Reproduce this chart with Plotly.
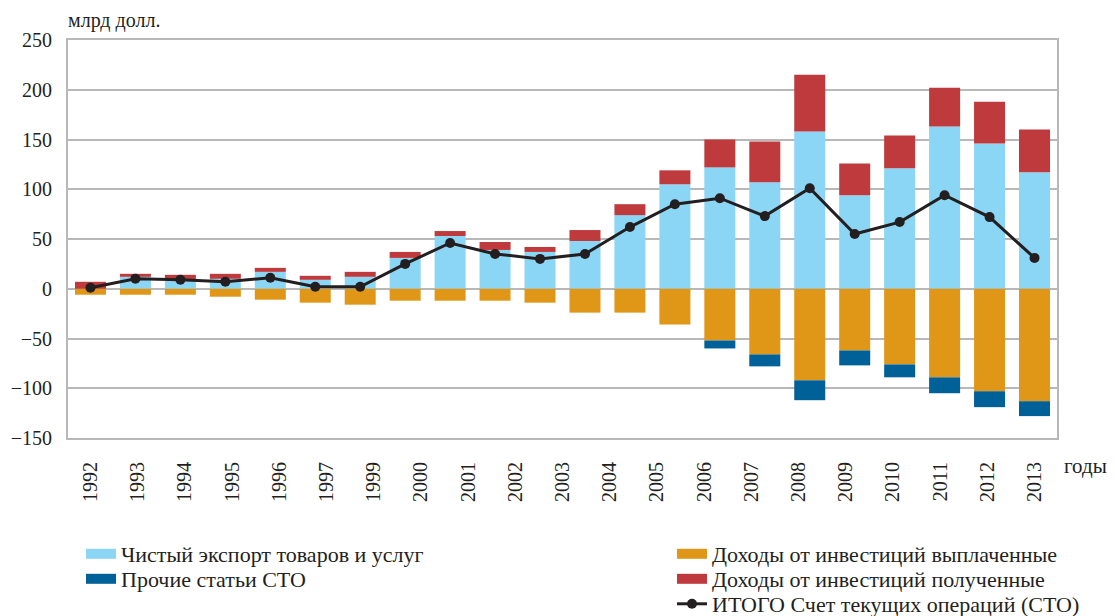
import numpy as np
import plotly.graph_objects as go

# values, bn USD; 22 bars, but the source axis shows 21 labels (no 1998)
years = list(range(1992, 2014))
tick_labels = ['1992', '1993', '1994', '1995', '1996', '1997', '1999', '2000', '2001', '2002',
               '2003', '2004', '2005', '2006', '2007', '2008', '2009', '2010', '2011', '2012', '2013']

net_export = [0, 12, 9, 10, 17, 9, 12, 31, 53, 39, 37, 48, 74, 105, 122, 107, 158, 94, 121, 163, 146, 117]
inv_received = [7, 3, 5, 5, 4, 4, 5, 6, 5, 8, 5, 11, 11, 14, 28, 41, 57, 32, 33, 39, 42, 43]
inv_paid = [-6, -6, -6, -8, -11, -14, -16, -12, -12, -12, -14, -24, -24, -36, -52, -66, -92, -62, -76, -89, -103, -113]
other_items = [0, 0, 0, 0, 0, 0, 0, 0, 0, 0, 0, 0, 0, 0, -8, -12, -20, -15, -13, -16, -16, -15]
current_account = [1, 10, 9, 7, 11, 2, 2, 25, 46, 35, 30, 35, 62, 85, 91, 73, 101, 55, 67, 94, 72, 31]

C_EXPORT = '#8bd5f5'
C_PAID = '#e09717'
C_OTHER = '#006198'
C_RECEIVED = '#bf3a3c'
C_LINE = '#231f20'
GRID = '#b8b8b8'
SERIF = 'Liberation Serif'

names = {
    'export': 'Чистый экспорт товаров и услуг',
    'other': 'Прочие статьи СТО',
    'paid': 'Доходы от инвестиций выплаченные',
    'received': 'Доходы от инвестиций полученные',
    'total': 'ИТОГО Счет текущих операций (СТО)',
}

fig = go.Figure()

# stacked bars (order matters for relative stacking)
fig.add_trace(go.Bar(x=years, y=net_export, marker_color=C_EXPORT, marker_line_width=0, showlegend=False))
fig.add_trace(go.Bar(x=years, y=inv_paid, marker_color=C_PAID, marker_line_width=0, showlegend=False))
fig.add_trace(go.Bar(x=years, y=other_items, marker_color=C_OTHER, marker_line_width=0, showlegend=False))
fig.add_trace(go.Bar(x=years, y=inv_received, marker_color=C_RECEIVED, marker_line_width=0, showlegend=False))

fig.add_trace(go.Scatter(x=years, y=current_account, mode='lines+markers', name=names['total'],
                         line=dict(color=C_LINE, width=3), marker=dict(color=C_LINE, size=10),
                         legend='legend5'))

# legend-only entries to get wide rectangular swatches
for key, col, lg in [('export', C_EXPORT, 'legend'), ('other', C_OTHER, 'legend2'),
                     ('paid', C_PAID, 'legend3'), ('received', C_RECEIVED, 'legend4')]:
    fig.add_trace(go.Scatter(x=[None], y=[None], mode='lines', name=names[key],
                             line=dict(color=col, width=11), legend=lg))

# the page body adds an 8px offset, so the figure is 8px smaller and shifted
OFF = 8
W, H = 1115 - OFF, 616 - OFF
# plot area in page pixels: x 68..1057, y 40..438
PL, PR, PT, PB = 68, 1057, 40, 438
PW, PH = PR - PL, PB - PT

legend_font = dict(family=SERIF, size=22, color=C_LINE)
def leg(px, py):
    return dict(x=(px - PL) / PW, y=(PB - py) / PH, xanchor='left', yanchor='middle',
                font=legend_font, bgcolor='rgba(0,0,0,0)', borderwidth=0)

fig.update_layout(
    barmode='relative',
    bargap=0.31,
    width=W, height=H,
    margin=dict(l=PL - OFF, r=W - (PR - OFF), t=PT - OFF, b=H - (PB - OFF), autoexpand=False),
    plot_bgcolor='white', paper_bgcolor='white',
    font=dict(family=SERIF, size=20, color=C_LINE),
    legend=leg(81, 554),
    legend2=leg(81, 579),
    legend3=leg(672, 554),
    legend4=leg(672, 579),
    legend5=leg(672, 604),
)

fig.update_xaxes(range=[1991.5, 2013.5], tickvals=np.linspace(1992, 2013, len(tick_labels)),
                 ticktext=tick_labels, tickangle=-90, ticklabelstandoff=14,
                 showgrid=False, showline=True, mirror=True, linecolor=GRID, linewidth=2,
                 tickfont=dict(family=SERIF, size=20, color=C_LINE))
fig.update_yaxes(range=[-150, 250], dtick=50, showgrid=True, gridcolor=GRID, gridwidth=2,
                 zeroline=True, zerolinecolor=GRID, zerolinewidth=2,
                 showline=True, mirror=True, linecolor=GRID, linewidth=2,
                 ticklabelstandoff=10, tickformat='d',
                 tickfont=dict(family=SERIF, size=20, color=C_LINE))

fig.add_annotation(text='млрд долл.', xref='paper', yref='paper', x=-0.002, y=(PB - 21) / PH,
                   xanchor='left', yanchor='middle', showarrow=False,
                   font=dict(family=SERIF, size=20, color=C_LINE))
fig.add_annotation(text='годы', xref='paper', yref='paper', x=1.005, y=-0.035,
                   xanchor='left', yanchor='top', showarrow=False,
                   font=dict(family=SERIF, size=21, color=C_LINE))

fig.write_html('out.html')
